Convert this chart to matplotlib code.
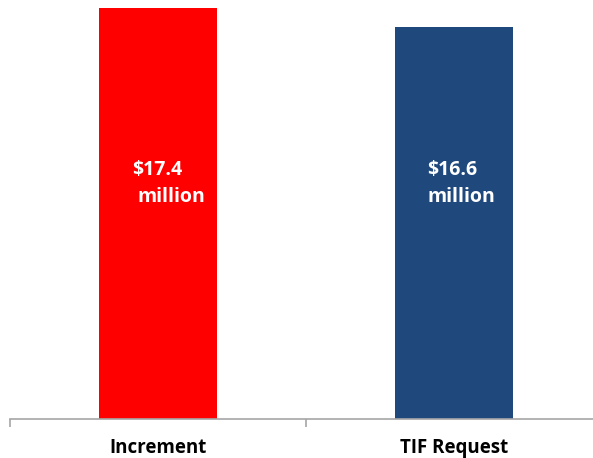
import matplotlib
matplotlib.use("Agg")
import matplotlib.pyplot as plt

categories = ["Increment", "TIF Request"]
values = [17.4, 16.6]
value_labels = ["$17.4", "$16.6"]
colors = ["#ff0000", "#1f497d"]

plt.rcParams['font.family'] = ['Open Sans', 'DejaVu Sans']

fig = plt.figure(figsize=(5.93, 4.58), dpi=100)
W, H = 593.0, 458.0
px_per_cat = 296.0
# axes: left edge at x=10px, baseline at y=419px, top at figure top
ax = fig.add_axes([10 / W, (H - 419) / H, 583 / W, 419 / H])

x = range(len(categories))
ax.bar(x, values, width=0.402, color=colors, zorder=2)

ax.set_xlim(-0.5, -0.5 + 583 / px_per_cat)
ax.set_ylim(0, 419 / 23.62)

for spine in ["top", "right", "left"]:
    ax.spines[spine].set_visible(False)
ax.spines["bottom"].set_color("#a6a6a6")
ax.spines["bottom"].set_linewidth(1.2)
ax.set_yticks([])
ax.set_xticks([-0.5, 0.5])
ax.set_xticklabels([])
ax.tick_params(axis="x", direction="out", length=6, color="#a6a6a6", width=1.2)

for i, c in enumerate(categories):
    ax.text(i, -1.22, c, ha="center", va="center",
            fontsize=13.5, fontweight="bold", color="black")

# value labels inside bars (two lines), offsets in pixels from bar centre
line1_dx = [-25.5, -26.5]
line2_dx = [-20.5, -26.5]
for i, lbl in enumerate(value_labels):
    ax.annotate(lbl.replace("$", r"\$"), xy=(i, 10.55), xytext=(line1_dx[i] * 0.72, 0),
                textcoords="offset points", ha="left", va="center",
                fontsize=14, fontweight="bold", color="white")
    ax.annotate("million", xy=(i, 9.4), xytext=(line2_dx[i] * 0.72, 0),
                textcoords="offset points", ha="left", va="center",
                fontsize=14, fontweight="bold", color="white")

fig.savefig("out.png", dpi=100)
